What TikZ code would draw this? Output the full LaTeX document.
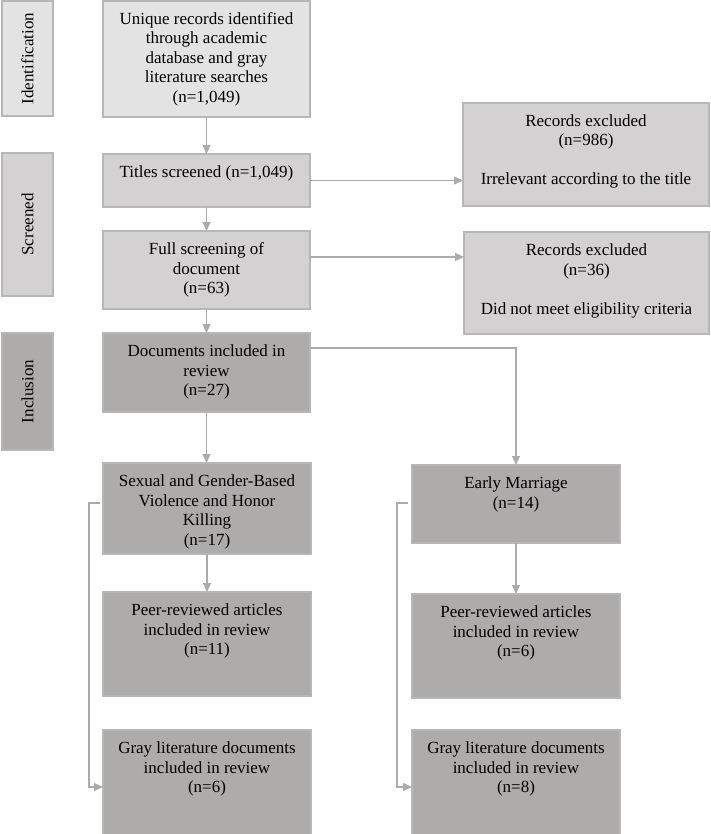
\documentclass[tikz,border=0pt]{standalone}
\usepackage{fontspec}
\setmainfont{Liberation Serif}
\usepackage{graphicx}
\usetikzlibrary{arrows.meta}
\definecolor{lightf}{HTML}{E3E3E3}
\definecolor{midf}{HTML}{D3D1D2}
\definecolor{darkf}{HTML}{AEABAB}
\definecolor{bordc}{HTML}{B7B7B7}
\definecolor{connc}{HTML}{ABABAB}
\newcommand{\bxt}[3]{\parbox[c][#2][t]{#1}{\centering\vspace*{9.85pt}\strut #3}}
\begin{document}
\begin{tikzpicture}[x=1pt,y=-1pt,
  font=\fontsize{17}{19.5}\selectfont,
  bx/.style={draw=bordc, line width=1.3pt, inner sep=0pt, outer sep=0pt},
  lightbx/.style={bx, fill=lightf},
  midbx/.style={bx, fill=midf},
  darkbx/.style={bx, fill=darkf},
  connline/.style={draw=connc, line width=1.2pt},
  arr/.style={connline, -{Triangle[length=9pt,width=8pt]}}]
\useasboundingbox (0,0) rectangle (710,834);
% side labels
\node[lightbx, minimum width=51, minimum height=115] (id) at (27.5,58.5) {\rotatebox{90}{Identification}};
\node[midbx, minimum width=51, minimum height=143] (scr) at (27.5,224.5) {\rotatebox{90}{Screened}};
\node[darkbx, minimum width=51, minimum height=117] (inc) at (27.5,391.5) {\rotatebox{90}{Inclusion}};
% main column
\node[lightbx, minimum width=207, minimum height=116] (b1) at (206.5,59) {\bxt{207pt}{116pt}{Unique records identified\\through academic\\database and gray\\literature searches\\(n=1,049)}};
\node[midbx, minimum width=207, minimum height=53] (b2) at (206.5,180.5) {\bxt{207pt}{53pt}{Titles screened (n=1,049)}};
\node[midbx, minimum width=207, minimum height=78] (b3) at (206.5,270) {\bxt{207pt}{78pt}{Full screening of\\document\\(n=63)}};
\node[darkbx, minimum width=207, minimum height=79] (b4) at (206.5,372.5) {\bxt{207pt}{79pt}{Documents included in\\review\\(n=27)}};
% excluded
\node[midbx, minimum width=246, minimum height=103] (rb1) at (586,154.5) {\bxt{246pt}{103pt}{Records excluded\\(n=986)\\[19.5pt]Irrelevant according to the title}};
\node[midbx, minimum width=245, minimum height=102] (rb2) at (586.5,283) {\bxt{245pt}{102pt}{Records excluded\\(n=36)\\[19.5pt]Did not meet eligibility criteria}};
% branches
\node[darkbx, minimum width=208, minimum height=91] (sgbv) at (207,508.5) {\bxt{208pt}{91pt}{Sexual and Gender-Based\\Violence and Honor\\Killing\\(n=17)}};
\node[darkbx, minimum width=208, minimum height=78] (em) at (516,504) {\bxt{208pt}{78pt}{Early Marriage\\(n=14)}};
\node[darkbx, minimum width=208, minimum height=104] (pr1) at (207,644) {\bxt{208pt}{104pt}{Peer-reviewed articles\\included in review\\(n=11)}};
\node[darkbx, minimum width=208, minimum height=104] (pr2) at (516,646) {\bxt{208pt}{104pt}{Peer-reviewed articles\\included in review\\(n=6)}};
\node[darkbx, minimum width=208, minimum height=106] (gl1) at (207,783) {\bxt{208pt}{106pt}{Gray literature documents\\included in review\\(n=6)}};
\node[darkbx, minimum width=208, minimum height=106] (gl2) at (516,783) {\bxt{208pt}{106pt}{Gray literature documents\\included in review\\(n=8)}};
% connectors
\draw[arr] (b1.south) -- (b2.north);
\draw[arr] (b2.south) -- (b3.north);
\draw[arr] (b3.south) -- (b4.north);
\draw[arr] (b4.south) -- (b4.south |- sgbv.north);
\draw[arr] (sgbv.south) -- (pr1.north);
\draw[arr] (em.south) -- (pr2.north);
\draw[arr] (b2.east) -- (b2.east -| rb1.west);
\coordinate (s3) at ([yshift=13pt]b3.east);
\draw[arr] (s3) -- (s3 -| rb2.west);
\coordinate (s4) at ([yshift=24.5pt]b4.east);
\draw[arr] (s4) -| (em.north);
\coordinate (ls) at ([xshift=-3pt,yshift=5.5pt]sgbv.west);
\coordinate (le) at ([yshift=-4pt]gl1.west);
\draw[arr] (ls) -- ++(-11,0) |- (le);
\coordinate (rs) at ([xshift=-4pt,yshift=1pt]em.west);
\coordinate (re) at ([yshift=-4pt]gl2.west);
\draw[arr] (rs) -- ++(-11,0) |- (re);
\end{tikzpicture}
\end{document}
